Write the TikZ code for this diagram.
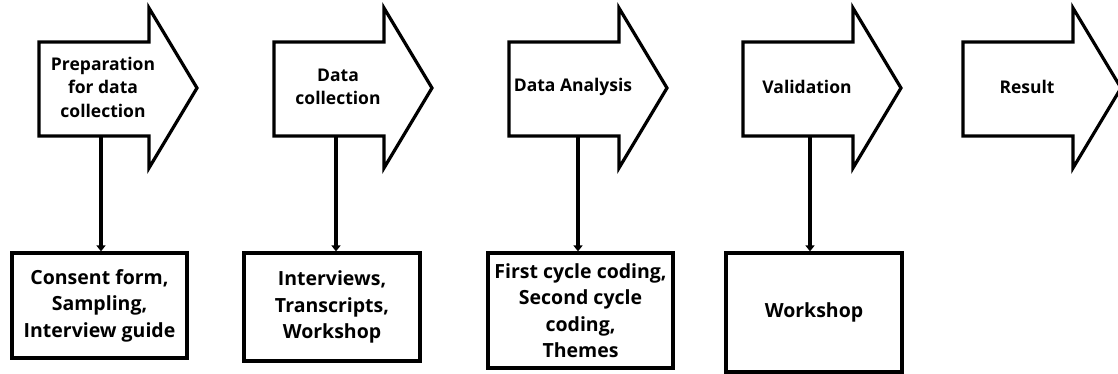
\documentclass[tikz,border=0pt]{standalone}
\usepackage{fontspec}
\setmainfont{Open Sans}
\usetikzlibrary{arrows.meta}

\begin{document}
\begin{tikzpicture}[x=1pt,y=-1pt,
        stage/.style={draw,line width=3.2pt,line join=miter,fill=white},
        stagetext/.style={font=\fontsize{17.5}{23.5}\selectfont\bfseries,align=center},
        outbox/.style={draw,line width=3.2pt,align=center,font=\fontsize{19.5}{26.5}\selectfont\bfseries},
        link/.style={-{Triangle[length=6pt,width=9pt]},line width=3.2pt}]
        \useasboundingbox(0,0)rectangle(1118,374);
        % stage arrows, with a foot point for the link
        \foreach \x/\d/\name/\txt in {39/62/prep/{Preparation\\for data\\collection},274/62/coll/{Data\\collection},509/69/anal/{Data Analysis},743/67/vali/{Validation},963/64/resu/{Result}}{
            \draw[stage](\x,42)--++(110,0)--++(0,-34)--++(48,80)--++(-48,80)--++(0,-32)--++(-110,0)--cycle;
            \node[stagetext](\name)at(\x+64,87){\txt};
            \coordinate(\name-foot)at(\x+\d,136);
        }

        \node[outbox,minimum width=175pt,minimum height=105pt](consent)at(99.5,305.5){Consent form,\\Sampling,\\Interview guide};
        \node[outbox,minimum width=176pt,minimum height=108pt](interviews)at(332,307){Interviews,\\Transcripts,\\Workshop};
        \node[outbox,minimum width=185pt,minimum height=115pt](coding)at(580.5,310.5){First cycle coding,\\Second cycle\\coding,\\Themes};
        \node[outbox,minimum width=176pt,minimum height=119pt](workshop)at(814,312.5){Workshop};

        \draw[link](prep-foot)--(prep-foot|-consent.north);
        \draw[link](coll-foot)--(coll-foot|-interviews.north);
        \draw[link](anal-foot)--(anal-foot|-coding.north);
        \draw[link](vali-foot)--(vali-foot|-workshop.north);
    \end{tikzpicture}
\end{document}
